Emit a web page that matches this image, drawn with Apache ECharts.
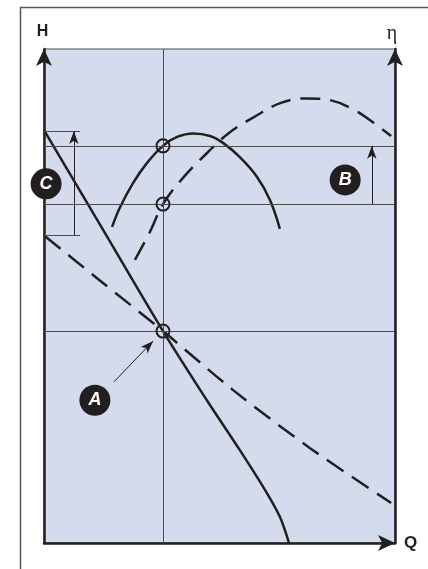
<!DOCTYPE html>
<html>
<head>
<meta charset="utf-8">
<script src="https://cdn.jsdelivr.net/npm/echarts@6/dist/echarts.min.js"></script>
<style>
html, body { margin: 0; padding: 0; background: #ffffff; }
#main { width: 428px; height: 569px; }
</style>
</head>
<body>
<div id="main"></div>
<script>
// 泵特性曲线：H-Q（实线/虚线）与 η-Q
var headSolid = [[0, 83.6], [16.0, 64.4], [33.9, 42.9], [46.4, 28.9], [55.8, 18.8], [63.0, 10.7], [67.2, 5.3], [69.8, 0]];
var headDashed = [[0.3, 62.1], [16.0, 53.1], [33.9, 42.9], [53.8, 31.0], [75.8, 19.2], [98.9, 8.1]];
var etaSolid = [[19.4, 64.0], [21.7, 68.0], [25.4, 72.9], [29.3, 76.9], [33.9, 80.4], [37.9, 82.2], [42.5, 82.9], [47.3, 82.4], [51.0, 81.0], [55.8, 78.1], [60.7, 74.1], [64.4, 69.4], [67.2, 63.6]];
var etaDashed = [[25.9, 57.3], [30.2, 63.0], [33.9, 68.6], [39.6, 73.9], [46.4, 78.9], [52.7, 83.0], [59.8, 86.2], [67.5, 89.1], [74.9, 90.0], [81.8, 89.6], [88.3, 87.7], [94.0, 85.0], [98.9, 82.4]];

// 工况点
var opQ = 33.9;
var opLevels = [80.4, 68.6, 42.9];

// 标注 C / B / A
var bracketC = { q: 8.5, tickEnd: 10.3, low: 62.3, high: 83.4 };
var bracketB = { q: 93.4, low: 68.6, high: 80.4 };
var arrowA = [[19.9, 32.6], [31.1, 40.9]];
var badges = [
    { name: 'A', value: [14.5, 28.9] },
    { name: 'B', value: [85.8, 73.5] },
    { name: 'C', value: [0.6, 72.7] }
];

var INK = '#231f20';
var GRIDLINE = '#4d4d50';

var chart = echarts.init(document.getElementById('main'));

var option = {
    animation: false,
    graphic: [{
        type: 'rect',
        left: 18,
        top: 5,
        shape: { width: 430, height: 580 },
        style: { fill: 'none', stroke: '#555555', lineWidth: 1.5 },
        z: -10
    }],
    grid: {
        left: 44,
        right: 33,
        top: 49,
        bottom: 26,
        show: true,
        backgroundColor: '#d4dbec',
        borderColor: GRIDLINE,
        borderWidth: 1
    },
    xAxis: {
        type: 'value',
        min: 0,
        max: 100,
        name: 'Q',
        nameLocation: 'end',
        nameGap: 9,
        nameTextStyle: { color: INK, fontSize: 17, fontFamily: 'Liberation Sans', fontWeight: 'bold', verticalAlign: 'middle' },
        axisLine: { show: true, symbol: ['none', 'arrow'], symbolSize: [12, 17], lineStyle: { color: INK, width: 2.5 } },
        axisTick: { show: false },
        axisLabel: { show: false },
        splitLine: { show: false }
    },
    yAxis: [{
        type: 'value',
        min: 0,
        max: 100,
        position: 'left',
        name: 'H',
        nameLocation: 'end',
        nameGap: 9,
        nameTextStyle: { color: INK, fontSize: 16, fontFamily: 'Liberation Sans', fontWeight: 'bold', align: 'center', verticalAlign: 'bottom', padding: [0, 3, 0, 0] },
        axisLine: { show: true, symbol: ['none', 'arrow'], symbolSize: [12, 17], lineStyle: { color: INK, width: 2.5 } },
        axisTick: { show: false },
        axisLabel: { show: false },
        splitLine: { show: false }
    }, {
        type: 'value',
        min: 0,
        max: 100,
        position: 'right',
        name: 'η',
        nameLocation: 'end',
        nameGap: 5,
        nameTextStyle: { color: INK, fontSize: 20, fontFamily: 'Liberation Serif', align: 'center', verticalAlign: 'bottom', padding: [0, 6, 0, 0] },
        axisLine: { show: true, symbol: ['none', 'arrow'], symbolSize: [12, 17], lineStyle: { color: INK, width: 2.5 } },
        axisTick: { show: false },
        axisLabel: { show: false },
        splitLine: { show: false }
    }],
    series: [
        {
            // 辅助线
            type: 'line',
            data: [],
            markLine: {
                silent: true,
                symbol: 'none',
                label: { show: false },
                lineStyle: { color: GRIDLINE, width: 1, type: 'solid' },
                data: [
                    { xAxis: opQ },
                    { yAxis: opLevels[0] },
                    { yAxis: opLevels[1] },
                    { yAxis: opLevels[2] },
                    [{ coord: [0, bracketC.high] }, { coord: [bracketC.tickEnd, bracketC.high] }],
                    [{ coord: [0, bracketC.low] }, { coord: [bracketC.tickEnd, bracketC.low] }]
                ]
            }
        },
        {
            // 箭头
            type: 'line',
            data: [],
            markLine: {
                silent: true,
                symbol: ['none', 'arrow'],
                symbolSize: [7, 13],
                label: { show: false },
                lineStyle: { color: INK, width: 1, type: 'solid' },
                data: [
                    [{ coord: [bracketC.q, bracketC.low] }, { coord: [bracketC.q, bracketC.high] }],
                    [{ coord: [bracketB.q, bracketB.low] }, { coord: [bracketB.q, bracketB.high] }],
                    [{ coord: arrowA[0] }, { coord: arrowA[1] }]
                ]
            }
        },
        {
            name: 'H 实线',
            type: 'line',
            data: headSolid,
            smooth: 0.3,
            showSymbol: false,
            clip: false,
            lineStyle: { color: INK, width: 2.5 }
        },
        {
            name: 'H 虚线',
            type: 'line',
            data: headDashed,
            smooth: 0.3,
            showSymbol: false,
            clip: false,
            lineStyle: { color: INK, width: 2.5, type: [20, 10] }
        },
        {
            name: 'η 实线',
            type: 'line',
            data: etaSolid,
            smooth: 0.4,
            showSymbol: false,
            clip: false,
            lineStyle: { color: INK, width: 2.5 }
        },
        {
            name: 'η 虚线',
            type: 'line',
            data: etaDashed,
            smooth: 0.4,
            showSymbol: false,
            clip: false,
            lineStyle: { color: INK, width: 2.5, type: [20, 10] }
        },
        {
            // 工况点
            type: 'scatter',
            symbol: 'circle',
            symbolSize: 13,
            z: 5,
            itemStyle: { color: 'rgba(0,0,0,0)', borderColor: INK, borderWidth: 2, opacity: 1 },
            data: opLevels.map(function (h) { return [opQ, h]; })
        },
        {
            // A B C 圆标
            type: 'scatter',
            symbol: 'circle',
            symbolSize: 31,
            z: 6,
            itemStyle: { color: INK, opacity: 1 },
            label: {
                show: true,
                position: 'inside',
                formatter: '{b}',
                color: '#ffffff',
                fontSize: 18,
                fontStyle: 'italic',
                fontWeight: 'bold',
                fontFamily: 'Liberation Sans'
            },
            data: badges
        }
    ]
};

chart.setOption(option);
</script>
</body>
</html>
